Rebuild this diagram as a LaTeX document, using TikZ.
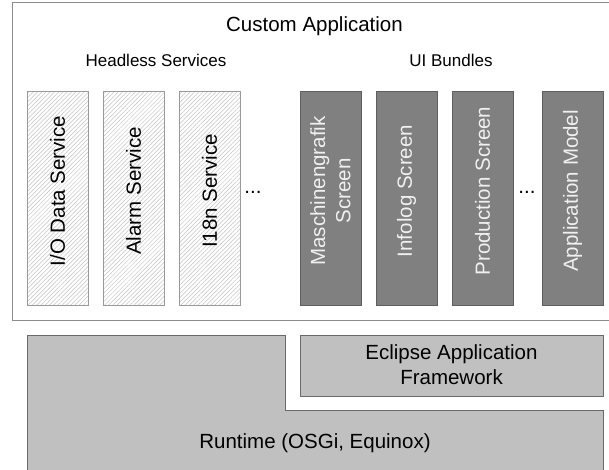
\documentclass[tikz,border=0pt]{standalone}
\usepackage{fontspec}
\setmainfont{Liberation Sans}
\usetikzlibrary{patterns.meta}
\definecolor{outerline}{HTML}{8C8C8C}
\definecolor{hsline}{HTML}{9A9A9A}
\definecolor{hatch}{HTML}{C4C4C4}
\definecolor{uifill}{HTML}{808080}
\definecolor{uiline}{HTML}{5E5E5E}
\definecolor{uitext}{HTML}{F0F0F0}
\definecolor{rtfill}{HTML}{C0C0C0}
\definecolor{rtline}{HTML}{6A6A6A}
\newcommand{\bigtxt}{\fontsize{20.5}{25.3}\selectfont}
\newcommand{\midtxt}{\fontsize{17}{20}\selectfont}
\begin{document}
\begin{tikzpicture}[x=1pt,y=-1pt,
  outerbox/.style={draw=outerline,line width=1pt},
  hsbox/.style={draw=hsline,line width=0.9pt,
    pattern={Lines[angle=45,distance=3pt,line width=0.5pt]},pattern color=hatch,
    minimum width=61pt,minimum height=214pt,inner sep=0pt},
  uibox/.style={draw=uiline,line width=0.9pt,fill=uifill,
    minimum width=61pt,minimum height=214pt,inner sep=0pt},
  layerbox/.style={draw=rtline,line width=0.9pt,fill=rtfill},
  vlabel/.style={rotate=90,font=\bigtxt,align=center,inner sep=0pt},
  uilabel/.style={vlabel,text=uitext},
  title/.style={font=\bigtxt,anchor=base,inner sep=0pt},
  subtitle/.style={font=\midtxt,anchor=base,inner sep=0pt}]
\clip (0,0) rectangle (609,469);
\fill[white] (0,0) rectangle (609,469);
% outer box
\draw[outerbox] (12,2) rectangle (617,320);
\node[title] (ca) at (314.5,31) {Custom Application};
\node[subtitle] (hs) at (156,66) {Headless Services};
\node[subtitle] (ui) at (451,66) {UI Bundles};
% headless services
\node[hsbox] (io) at (57.5,198) {};
\node[hsbox] (al) at (133.5,198) {};
\node[hsbox] (in) at (209.5,198) {};
\node[vlabel] (iot) at ([yshift=7pt]io.center) {I/O Data Service};
\node[vlabel] (alt) at ([yshift=7pt]al.center) {Alarm Service};
\node[vlabel] (int) at ([yshift=7pt]in.center) {I18n Service};
\node[title] (hsdots) at (253,193) {...};
% UI bundles
\node[uibox] (ma) at (330.5,198) {};
\node[uibox] (il) at (406.5,198) {};
\node[uibox] (pr) at (482.5,198) {};
\node[uibox] (am) at (572.5,198) {};
\node[uilabel] (mat) at ([yshift=7pt]ma.center) {Maschinengrafik\\Screen};
\node[uilabel] (ilt) at ([yshift=7pt]il.center) {Infolog Screen};
\node[uilabel] (prt) at ([yshift=7pt]pr.center) {Production Screen};
\node[uilabel] (amt) at ([yshift=7pt]am.center) {Application Model};
\node[title] (uidots) at (527,193) {...};
% runtime
\filldraw[layerbox] (27,480) -- (27,335) -- (285,335) -- (285,410) -- (603,410) -- (603,480) -- cycle;
\node[title] (rt) at (315,448) {Runtime (OSGi, Equinox)};
% eclipse application framework
\node[layerbox,minimum width=303pt,minimum height=61pt,inner sep=0pt] (eaf) at (451.5,365.5) {};
\node[font=\bigtxt,align=center,inner sep=0pt] (eaft) at ([yshift=1pt]eaf.center) {Eclipse Application\\Framework};
\end{tikzpicture}
\end{document}
